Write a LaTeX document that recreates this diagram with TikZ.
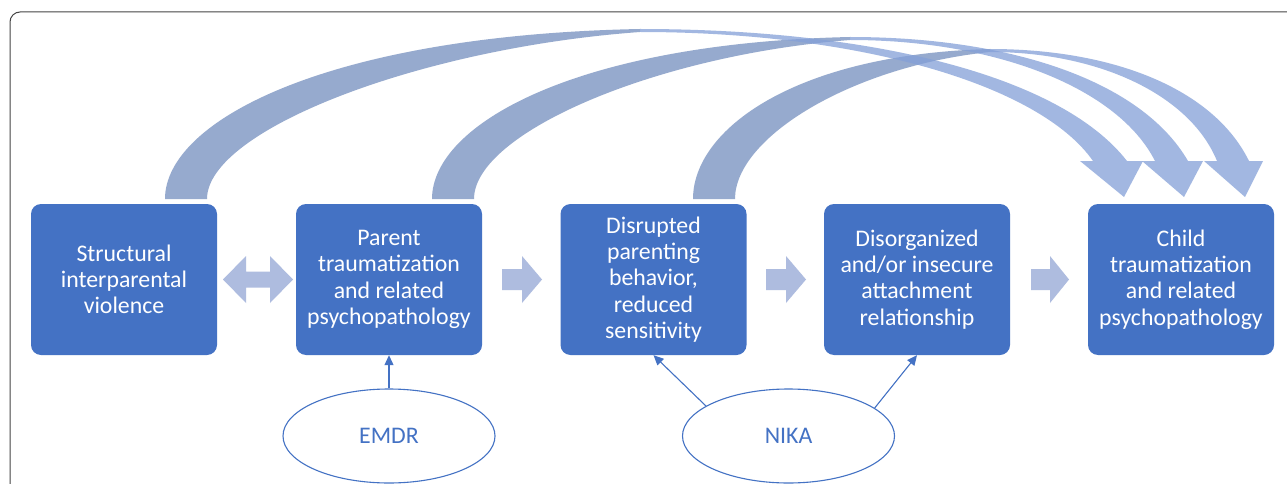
\documentclass[tikz,border=0pt]{standalone}
\usepackage{fontspec}
\setmainfont{Carlito}
\usetikzlibrary{arrows.meta,shapes.geometric}
\definecolor{boxblue}{HTML}{4472C4}
\definecolor{blockc}{RGB}{174,188,223}
\definecolor{risec}{RGB}{116,142,190}
\definecolor{descc}{RGB}{132,160,216}
\definecolor{framec}{HTML}{454545}
\tikzset{
  box/.style={rectangle, rounded corners=10pt, fill=boxblue, text=white,
    minimum width=186pt, minimum height=151pt, inner sep=0pt, align=center,
    font=\fontsize{23.8}{26.3}\selectfont},
  oval/.style={ellipse, draw=boxblue, line width=1.1pt, text=boxblue,
    minimum width=212pt, minimum height=94pt, inner sep=0pt,
    font=\fontsize{23.8}{26}\selectfont},
  conn/.style={draw=boxblue, line width=1.1pt, -{Triangle[length=10pt,width=9pt]}},
  blockarrow/.style={fill=blockc},
  riseband/.style={fill=risec, fill opacity=0.75},
  descband/.style={fill=descc, fill opacity=0.75},
}
\begin{document}
\begin{tikzpicture}[x=1pt,y=-1pt]
\useasboundingbox (0,0) rectangle (1287,484);
\clip (0,0) rectangle (1287,484);
\fill[white] (0,0) rectangle (1287,484);
\draw[framec, line width=1pt, rounded corners=10pt] (10,12) rectangle (1320,520);

% boxes
\node[box] (b1) at (124,279.5) {Structural\\interparental\\violence};
\node[box] (b2) at (389,279.5) {Parent\\traumatization\\and related\\psychopathology};
\node[box] (b3) at (653.5,279.5) {Disrupted\\parenting\\behavior,\\reduced\\sensitivity};
\node[box] (b4) at (917,279.5) {Disorganized\\and/or insecure\\attachment\\relationship};
\node[box] (b5) at (1181,279.5) {Child\\traumatization\\and related\\psychopathology};

% block arrows
\fill[blockarrow] (223,279.5) -- (246,256) -- (246,271.5) -- (270,271.5) -- (270,256) -- (293,279.5)
  -- (270,303) -- (270,287.5) -- (246,287.5) -- (246,303) -- cycle;
\fill[blockarrow] (502,269) -- (522,269) -- (522,256) -- (542,279.5) -- (522,303) -- (522,290) -- (502,290) -- cycle;
\fill[blockarrow] (766,269) -- (786,269) -- (786,256) -- (806,279.5) -- (786,303) -- (786,290) -- (766,290) -- cycle;
\fill[blockarrow] (1031,269) -- (1050,269) -- (1050,256) -- (1069,279.5) -- (1050,303) -- (1050,290) -- (1031,290) -- cycle;

% curved arrows: rising parts
\fill[riseband] (165,199) .. controls (165,120) and (330,35) .. (640,29) -- (640,32)
  .. controls (420,48) and (207,130) .. (207,199) -- cycle;
\fill[riseband] (432,199) .. controls (432,124) and (577,43) .. (850,37) -- (850,40)
  .. controls (656,55) and (474,133) .. (474,199) -- cycle;
\fill[riseband] (693,199) .. controls (693,129) and (796,54) .. (990,49) -- (990,52)
  .. controls (853,66) and (735,137) .. (735,199) -- cycle;
% curved arrows: descending parts with heads
\fill[descband] (640,29) .. controls (870,29) and (1060,75) .. (1127,161) -- (1143,161) -- (1124,197)
  -- (1080,161) -- (1093,161) .. controls (1040,85) and (860,32) .. (640,32) -- cycle;
\fill[descband] (850,37) .. controls (1009,37) and (1141,80) .. (1188,161) -- (1203,161) -- (1184,197)
  -- (1142,161) -- (1155,161) .. controls (1118,88) and (996,40) .. (850,40) -- cycle;
\fill[descband] (990,49) .. controls (1112,49) and (1213,88) .. (1249,161) -- (1263,161) -- (1245,197)
  -- (1204,161) -- (1217,161) .. controls (1190,95) and (1099,52) .. (990,52) -- cycle;

% interventions
\node[oval] (emdr) at (389,436) {EMDR};
\node[oval] (nika) at (788.5,436) {NIKA};
\draw[conn] (emdr.north) -- (b2.south);
\draw[conn] (nika.160.8) -- (b3.south);
\draw[conn] (nika.18.5) -- (b4.south);
\end{tikzpicture}
\end{document}
